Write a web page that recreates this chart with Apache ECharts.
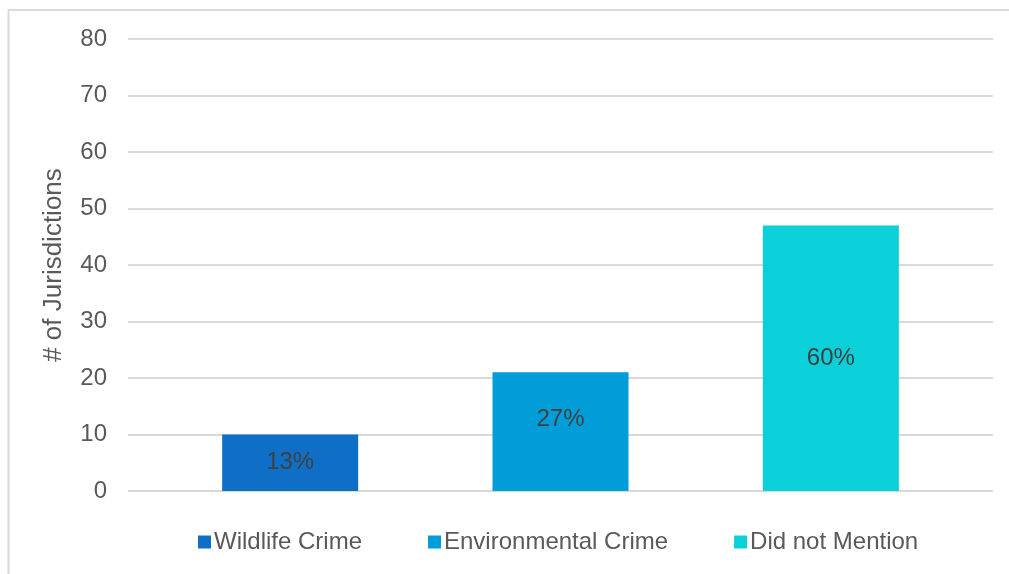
<!DOCTYPE html>
<html>
<head>
<meta charset="utf-8">
<script src="https://cdn.jsdelivr.net/npm/echarts@6/dist/echarts.min.js"></script>
<style>
html,body{margin:0;padding:0;background:#fff;}
#chart{width:1009px;height:574px;}
</style>
</head>
<body>
<div id="chart"></div>
<script>
var categories = ['Wildlife Crime', 'Environmental Crime', 'Did not Mention'];
var values = [10, 21, 47];
var percentLabels = ['13%', '27%', '60%'];
var colors = ['#0F6FC6', '#009DD9', '#0BD0D9'];
var yTicks = [0, 10, 20, 30, 40, 50, 60, 70, 80];
var labelShift = [0, -12, 0];

var chart = echarts.init(document.getElementById('chart'));
var FONT = '"Liberation Sans", Arial, sans-serif';

var series = categories.map(function (name, i) {
  var data = categories.map(function (c, j) { return j === i ? values[i] : '-'; });
  return {
    name: name,
    type: 'bar',
    stack: 'all',
    xAxisIndex: 1,
    yAxisIndex: 1,
    barWidth: 136,
    itemStyle: { color: colors[i] },
    label: {
      show: true,
      position: 'inside',
      offset: [0, labelShift[i]],
      color: '#404040',
      fontSize: 24,
      fontFamily: FONT,
      formatter: function () { return percentLabels[i]; }
    },
    data: data
  };
});

chart.setOption({
  animation: false,
  backgroundColor: '#ffffff',
  textStyle: { fontFamily: FONT },
  graphic: [{
    type: 'polyline',
    shape: { points: [[8.5, 574], [8.5, 10], [1009, 10]] },
    style: { stroke: '#D9D9D9', lineWidth: 2, fill: null },
    silent: true
  }],
  legend: {
    bottom: 15,
    left: 193,
    itemWidth: 13,
    itemHeight: 13,
    itemGap: 66,
    icon: 'rect',
    textStyle: { fontSize: 24, color: '#595959', fontFamily: FONT, padding: [0, 0, 0, -2] },
    data: categories
  },
  grid: [
    { left: 128, right: 16, top: 39, bottom: 83 },
    { left: 155, right: 43, top: 39, bottom: 83 }
  ],
  xAxis: [
    { type: 'category', gridIndex: 0, data: categories, show: true,
      axisLine: { show: false }, axisTick: { show: false }, axisLabel: { show: false } },
    { type: 'category', gridIndex: 1, data: categories,
      axisLine: { show: false }, axisTick: { show: false }, axisLabel: { show: false } }
  ],
  yAxis: [
    {
      type: 'value', gridIndex: 0, min: yTicks[0], max: yTicks[yTicks.length - 1], interval: 10,
      name: '# of Jurisdictions',
      nameLocation: 'middle',
      nameGap: 61,
      nameTextStyle: { fontSize: 26, color: '#595959', fontFamily: FONT },
      axisLine: { show: false },
      axisTick: { show: false },
      axisLabel: { fontSize: 24, color: '#595959', margin: 21, fontFamily: FONT },
      splitLine: { lineStyle: { color: '#D9D9D9', width: 2 } }
    },
    {
      type: 'value', gridIndex: 1, min: yTicks[0], max: yTicks[yTicks.length - 1], interval: 10,
      show: false, splitLine: { show: false }
    }
  ],
  series: series
});
</script>
</body>
</html>
